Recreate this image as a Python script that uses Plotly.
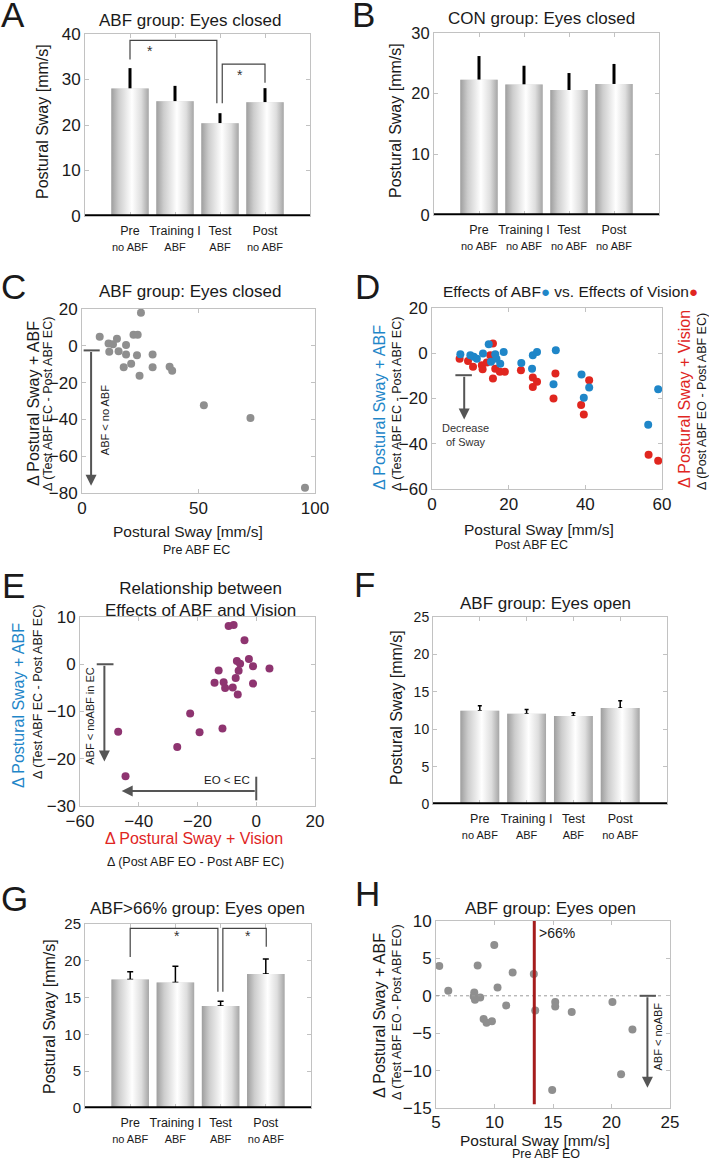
import plotly.graph_objects as go

W, H = 709, 1158
FONT = "Liberation Sans, Arial, Helvetica, sans-serif"
TXT = "#1a1a1a"
AXC = "#c2c2c2"
BLUE = "#1f86c8"
RED = "#e0261f"
PURPLE = "#8e3470"
GRAY_DOT = "#8f8f8f"
ARROW = "#555555"

# ---------------- data ----------------
CATS = ["Pre", "Training I", "Test", "Post"]

A_SUB = ["no ABF", "ABF", "ABF", "no ABF"]
A_MEAN = [28.0, 25.2, 20.4, 25.0]
A_ERR = [4.5, 3.4, 2.2, 3.1]

B_SUB = ["no ABF", "no ABF", "no ABF", "no ABF"]
B_MEAN = [22.3, 21.5, 20.6, 21.6]
B_ERR = [3.9, 3.1, 2.8, 3.3]

F_SUB = ["no ABF", "ABF", "ABF", "no ABF"]
F_MEAN = [12.45, 12.05, 11.75, 12.85]
F_ERR = [0.7, 0.6, 0.45, 0.95]

G_SUB = ["no ABF", "ABF", "ABF", "no ABF"]
G_MEAN = [17.45, 17.05, 13.85, 18.2]
G_ERR = [1.05, 2.2, 0.65, 2.05]

C_PRE = [7.6, 11.4, 13.3, 11.7, 15.0, 15.7, 18.9, 18.9, 17.9, 21.1, 22.1,
         23.9, 23.6, 24.7, 25.3, 30.3, 30.3, 37.6, 38.7, 52.3, 72.3, 95.7]
C_DELTA = [4.9, 1.3, 0.9, -3.3, 3.8, -2.9, 0.5, -4.7, -11.6, -9.8, 6.0,
           6.0, -5.1, -16.3, 18.0, -4.7, -11.6, -11.4, -13.6, -32.3, -39.2, -77.1]

D_POST_B = [7.4, 10.0, 10.9, 11.7, 13.3, 14.8, 15.4, 16.5, 16.8, 17.8, 18.7,
            23.3, 26.1, 26.3, 27.4, 31.7, 32.3, 39.0, 39.6, 41.0, 56.4, 59.0]
D_ABF = [-0.4, -0.9, -1.6, -2.4, -0.1, 4.0, -3.8, -0.4, -2.4, -4.6, 0.6,
         -4.3, -6.8, -0.9, 0.6, -13.7, 1.3, -9.4, -19.7, -15.1, -31.6, -15.9]
D_POST_R = [7.2, 9.4, 10.7, 13.0, 13.2, 14.3, 15.2, 15.9, 15.9, 16.5, 17.7,
            19.0, 23.2, 26.3, 26.3, 27.4, 32.2, 31.7, 38.9, 39.6, 41.0, 56.5, 59.0]
D_VIS = [-2.4, -3.4, -6.0, -5.3, -7.1, -4.1, -0.9, 4.3, -11.2, -6.8, -8.2,
         -8.2, -7.5, -10.7, -14.9, -12.6, -9.0, -20.0, -22.9, -27.1, -11.9, -44.9, -47.5]

E_VIS = [-9.4, -7.7, -4.0, -6.6, -5.5, -6.0, -2.5, -1.1, 4.5, -12.8, -14.2, -11.1,
         -10.6, -8.0, -7.0, -6.3, -1.1, -22.5, -19.3, -11.5, -26.9, -47.0, -44.5]
E_ABF = [8.1, 8.3, 5.1, 0.7, 0.1, -1.4, 1.1, -0.4, -0.9, -1.3, -3.9, -3.8,
         -5.0, -4.9, -2.9, -6.4, -4.1, -10.4, -14.4, -13.6, -17.5, -14.3, -23.7]

H_PRE = [5.28, 6.05, 8.27, 8.22, 8.33, 8.78, 8.56, 9.07, 9.32, 9.78, 9.98, 10.26,
         11.0, 11.55, 13.36, 13.48, 14.93, 15.19, 15.19, 16.6, 20.08, 20.82, 21.79]
H_DELTA = [4.0, 0.67, 0.44, -0.09, -0.53, -0.22, 4.04, -3.1, -3.6, -3.4, 6.8, 1.1,
           -1.3, 3.1, 2.9, -1.96, -12.6, -0.84, -1.42, -2.18, -0.84, -10.5, -4.5]
H_THRESHOLD = 13.4

# ---------------- helpers ----------------
fig = go.Figure()
annotations = []
shapes = []
layout_axes = {}

BAR_W = 0.83
BAR_SCALE = [[0.0, "#9e9e9e"], [0.2, "#cdcdcd"], [0.55, "#ffffff"],
             [0.8, "#dedede"], [1.0, "#a6a6a6"]]


def names(i):
    return ("x" if i == 1 else f"x{i}"), ("y" if i == 1 else f"y{i}")


def axis_style(size):
    return dict(showline=True, linecolor=AXC, linewidth=1, mirror="ticks",
                ticks="inside", ticklen=4, tickcolor=AXC, showgrid=False,
                zeroline=False, tickangle=0,
                tickfont=dict(family=FONT, size=size, color=TXT))


def set_axes(i, xdom, ydom, xr, yr, xkw, ykw, size, xsize=None):
    xa, ya = names(i)
    xk = "xaxis" if i == 1 else f"xaxis{i}"
    yk = "yaxis" if i == 1 else f"yaxis{i}"
    xs = axis_style(size if xsize is None else xsize)
    layout_axes[xk] = dict(domain=[xdom[0] / W, xdom[1] / W], anchor=ya, range=xr,
                           **xs, **xkw)
    layout_axes[yk] = dict(domain=[1 - ydom[1] / H, 1 - ydom[0] / H], anchor=xa, range=yr,
                           **axis_style(size), **ykw)


def ann(text, x, y, size, color=TXT, angle=0, xanchor="center", yanchor="middle",
        xref="paper", yref="paper"):
    if xref == "paper":
        x = x / W
    if yref == "paper":
        y = 1 - y / H
    annotations.append(dict(text=text, x=x, y=y, xref=xref, yref=yref, showarrow=False,
                            textangle=angle, xanchor=xanchor, yanchor=yanchor,
                            font=dict(family=FONT, size=size, color=color)))


def arrow(i, x0, y0, x1, y1, width=2):
    xa, ya = names(i)
    annotations.append(dict(x=x1, y=y1, ax=x0, ay=y0, xref=xa, yref=ya, axref=xa, ayref=ya,
                            showarrow=True, arrowhead=2, arrowsize=1.1, arrowwidth=width,
                            arrowcolor=ARROW, standoff=0, startstandoff=0, text=""))


def seg(i, x0, y0, x1, y1, color=ARROW, width=2, dash="solid"):
    xa, ya = names(i)
    shapes.append(dict(type="line", xref=xa, yref=ya, x0=x0, y0=y0, x1=x1, y1=y1,
                       line=dict(color=color, width=width, dash=dash), layer="above"))


def bracket(i, xl, xr, ytop, yl, yr):
    xa, ya = names(i)
    shapes.append(dict(type="path", xref=xa, yref=ya,
                       path=f"M {xl},{yl} L {xl},{ytop} L {xr},{ytop} L {xr},{yr}",
                       line=dict(color="#444444", width=1.2), layer="above"))


def bar_panel(i, subs, means, errs, err_thick, err_cap):
    xa, ya = names(i)
    xs = list(range(1, len(CATS) + 1))
    fig.add_trace(go.Bar(x=xs, y=means, width=BAR_W, xaxis=xa, yaxis=ya,
                         marker=dict(color="#d8d8d8", line=dict(width=0)),
                         error_y=dict(type="data", symmetric=False, array=errs,
                                      arrayminus=[0] * len(errs), color="black",
                                      thickness=err_thick, width=err_cap),
                         showlegend=False, hoverinfo="skip"))
    for x, m in zip(xs, means):
        x0, x1 = x - BAR_W / 2, x + BAR_W / 2
        fig.add_trace(go.Scatter(x=[x0, x1, x1, x0, x0], y=[0, 0, m, m, 0], mode="lines",
                                 fill="toself", line=dict(width=0, color="rgba(0,0,0,0)"),
                                 fillgradient=dict(type="horizontal", colorscale=BAR_SCALE),
                                 xaxis=xa, yaxis=ya, showlegend=False, hoverinfo="skip"))
    shapes.append(dict(type="line", xref=f"{xa} domain", yref=ya, x0=0, x1=1, y0=0, y1=0,
                       line=dict(color="black", width=3.5), layer="above"))
    ticktext = [f"{c}<br><span style='font-size:11px'>{s}</span>" for c, s in zip(CATS, subs)]
    return dict(tickvals=xs, ticktext=ticktext, ticklabelstandoff=3)


def scatter(i, xs, ys, color, size=8):
    xa, ya = names(i)
    fig.add_trace(go.Scatter(x=xs, y=ys, mode="markers", xaxis=xa, yaxis=ya,
                             marker=dict(color=color, size=size, line=dict(width=0)),
                             showlegend=False, hoverinfo="skip"))


# ---------------- Panel A ----------------
xkw = bar_panel(1, A_SUB, A_MEAN, A_ERR, 3, 0)
set_axes(1, (85, 310), (34, 216), [0, 5], [0, 40], xkw, dict(dtick=10), 17, xsize=12.5)
bracket(1, 1.0, 2.93, 38.6, 34.4, 24.8)
bracket(1, 3.05, 4.0, 33.4, 24.8, 29.3)
ann("*", 1.44, 36.2, 14, color="#333333", xref="x", yref="y")
ann("*", 3.44, 31.0, 14, color="#333333", xref="x", yref="y")
ann("ABF group: Eyes closed", 190, 21, 17)
ann("Postural Sway [mm/s]", 42, 122, 16, angle=-90)
ann("A", 13, 14, 35)

# ---------------- Panel B ----------------
xkw = bar_panel(2, B_SUB, B_MEAN, B_ERR, 3, 0)
set_axes(2, (434, 659), (33, 215), [0, 5], [0, 30], xkw, dict(dtick=10), 16.5, xsize=12.5)
ann("CON group: Eyes closed", 541, 18, 17)
ann("Postural Sway [mm/s]", 396, 121, 16, angle=-90)
ann("B", 363, 14, 35)

# ---------------- Panel C ----------------
scatter(3, C_PRE, C_DELTA, GRAY_DOT)
set_axes(3, (82, 315), (309, 493), [0, 100], [-80, 20], dict(dtick=50), dict(dtick=20), 17)
seg(3, 0.7, -2.5, 7.6, -2.5)
arrow(3, 3.9, -2.5, 3.9, -76)
ann("ABF < no ABF", 9.8, -40.5, 11, angle=-90, xref="x3", yref="y3")
ann("ABF group: Eyes closed", 190, 292, 17)
ann("Δ Postural Sway + ABF", 33, 404, 16, angle=-90)
ann("Δ (Test ABF EC - Post ABF EC)", 48, 404, 12.5, angle=-90)
ann("Postural Sway [mm/s]", 188, 531, 15.5)
ann("Pre ABF EC", 196, 550, 12.5)
ann("C", 13, 286, 35)

# ---------------- Panel D ----------------
scatter(4, D_POST_R, D_VIS, RED)
scatter(4, D_POST_B, D_ABF, BLUE)
set_axes(4, (432, 662), (308, 489), [0, 60], [-60, 20], dict(dtick=20), dict(dtick=20), 17)
seg(4, 6.1, -9.7, 10.4, -9.7)
arrow(4, 8.4, -9.7, 8.4, -29.3)
ann("Decrease<br>of Sway", 8.7, -36, 11, color="#333333", xref="x4", yref="y4")
ann(f"Effects of ABF<span style='color:{BLUE};font-size:15px'>●</span>"
    f" vs. Effects of Vision<span style='color:{RED};font-size:15px'>●</span>",
    570, 291, 15.5)
ann("Δ Postural Sway + ABF", 379, 407, 16, color=BLUE, angle=-90)
ann("Δ (Test ABF EC - Post ABF EC)", 397, 404, 12.5, angle=-90)
ann("Δ Postural Sway + Vision", 684, 399, 16, color=RED, angle=-90)
ann("Δ (Post ABF EO - Post ABF EC)", 702, 402, 12.5, angle=-90)
ann("Postural Sway [mm/s]", 539, 530, 15.5)
ann("Post ABF EC", 531, 545, 12.5)
ann("D", 367, 286, 35)

# ---------------- Panel E ----------------
scatter(5, E_VIS, E_ABF, PURPLE)
set_axes(5, (80, 315), (617, 806), [-60, 20], [-30, 10], dict(dtick=20), dict(dtick=10), 17)
seg(5, -54.3, 0, -48.6, 0)
arrow(5, -51.7, 0, -51.7, -20.6)
ann("ABF < noABF in EC", -56.6, -10.9, 11, angle=-90, xref="x5", yref="y5")
seg(5, 0, -23.8, 0, -28.8)
arrow(5, 0, -26.8, -45.8, -26.8)
ann("EO < EC", -9.8, -24.4, 11.5, xref="x5", yref="y5")
ann("Relationship between<br>Effects of ABF and Vision", 200, 599, 17)
ann("Δ Postural Sway + ABF", 18, 706, 16, color=BLUE, angle=-90)
ann("Δ (Test ABF EC - Post ABF EC)", 38, 692, 12.5, angle=-90)
ann("Δ Postural Sway + Vision", 194, 838, 16, color=RED)
ann("Δ (Post ABF EO - Post ABF EC)", 195, 862, 12.5)
ann("E", 13, 586, 35)

# ---------------- Panel F ----------------
xkw = bar_panel(6, F_SUB, F_MEAN, F_ERR, 1.5, 2)
set_axes(6, (433, 667), (617, 804), [0, 5], [0, 25], xkw, dict(dtick=5), 14, xsize=12.5)
ann("ABF group: Eyes open", 545, 603, 17)
ann("Postural Sway [mm/s]", 396, 708, 16, angle=-90)
ann("F", 364, 584, 35)

# ---------------- Panel G ----------------
xkw = bar_panel(7, G_SUB, G_MEAN, G_ERR, 1.5, 3)
set_axes(7, (85, 311), (924, 1108), [0, 5], [0, 25], xkw, dict(dtick=5), 15, xsize=12.5)
bracket(7, 1.0, 2.94, 24.4, 20.5, 15.8)
bracket(7, 3.05, 4.01, 24.4, 15.8, 21.9)
ann("*", 2.04, 23.4, 14, color="#333333", xref="x7", yref="y7")
ann("*", 3.6, 23.4, 14, color="#333333", xref="x7", yref="y7")
ann("ABF>66% group: Eyes open", 197, 908, 17)
ann("Postural Sway [mm/s]", 49, 1017, 16, angle=-90)
ann("G", 14, 898, 35)

# ---------------- Panel H ----------------
seg(8, 5, 0, 24.3, 0, color="#9a9a9a", width=1, dash="dot")
scatter(8, H_PRE, H_DELTA, GRAY_DOT)
set_axes(8, (436, 670), (921, 1108), [5, 25], [-15, 10],
         dict(dtick=5, ticklabelstandoff=-1), dict(dtick=5), 17)
seg(8, H_THRESHOLD, -14.5, H_THRESHOLD, 10, color="#a51c1c", width=3)
ann(">66%", H_THRESHOLD + 0.2, 8.4, 14, xanchor="left", xref="x8", yref="y8")
seg(8, 22.4, 0, 23.8, 0)
arrow(8, 23.07, 0, 23.07, -12.3)
ann("ABF < noABF", 24.0, -5.4, 11, angle=-90, xref="x8", yref="y8")
ann("ABF group: Eyes open", 550, 908, 17)
ann("Δ Postural Sway + ABF", 379, 1015, 16, angle=-90)
ann("Δ (Test ABF EO - Post ABF EO)", 397, 1012, 12.5, angle=-90)
ann("Postural Sway [mm/s]", 535, 1140, 15.5)
ann("Pre ABF EO", 546, 1153.5, 12.5)
ann("H", 367, 893, 35)

fig.update_layout(width=W, height=H,
                  margin=dict(l=0, r=0, t=0, b=0, pad=0, autoexpand=False),
                  paper_bgcolor="white", plot_bgcolor="white", showlegend=False,
                  barmode="overlay", font=dict(family=FONT, color=TXT),
                  annotations=annotations, shapes=shapes, **layout_axes)
fig.write_html("out.html", config={"displayModeBar": False, "staticPlot": True},
               post_script="document.body.style.margin='0';"
                           "document.body.style.overflow='hidden';")
